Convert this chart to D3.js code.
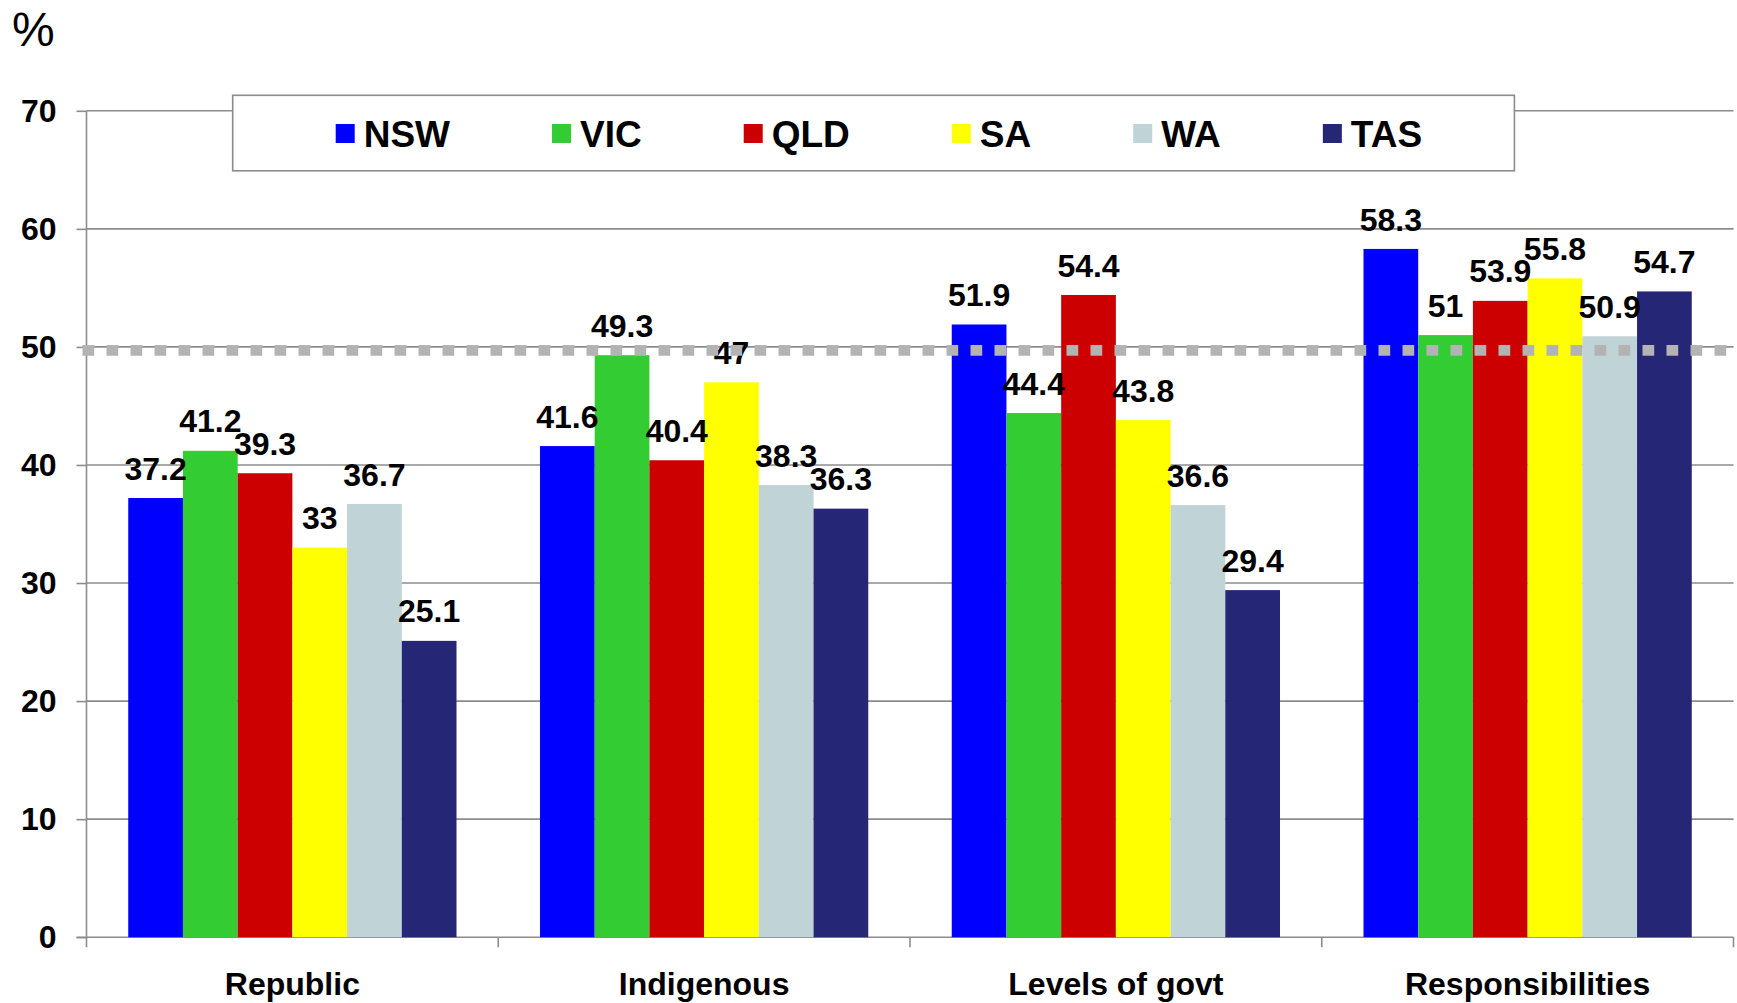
<!DOCTYPE html>
<html>
<head>
<meta charset="utf-8">
<script src="https://cdn.jsdelivr.net/npm/d3@7"></script>
<style>
  html, body { margin: 0; padding: 0; background: #fff; }
  svg { display: block; }
  text { font-family: "Liberation Sans", Arial, sans-serif; }
</style>
</head>
<body>
<svg id="chart" width="1737" height="1003"></svg>
<script>
// ---- data ----
const categories = ["Republic", "Indigenous", "Levels of govt", "Responsibilities"];
const states = ["NSW", "VIC", "QLD", "SA", "WA", "TAS"];
const NSW = [37.2, 41.6, 51.9, 58.3];
const VIC = [41.2, 49.3, 44.4, 51.0];
const QLD = [39.3, 40.4, 54.4, 53.9];
const SA  = [33.0, 47.0, 43.8, 55.8];
const WA  = [36.7, 38.3, 36.6, 50.9];
const TAS = [25.1, 36.3, 29.4, 54.7];
const seriesValues = [NSW, VIC, QLD, SA, WA, TAS];
const stateColors = ["#0000ff", "#33cc33", "#cc0000", "#ffff00", "#c0d3d6", "#262677"];
const yTicks = [0, 10, 20, 30, 40, 50, 60, 70];
const referenceValue = 49.7;
const yUnit = "%";

// ---- layout ----
const svg = d3.select("#chart");
const plot = { left: 86.5, right: 1733.5, top: 110.8, bottom: 937.2 };

const x0 = d3.scaleBand().domain(categories).range([plot.left, plot.right]).padding(0);
const x1 = d3.scaleBand().domain(states).range([0, x0.bandwidth()]).paddingInner(0).paddingOuter(0.763);
const y = d3.scaleLinear().domain([0, 70]).range([plot.bottom, plot.top]);
const color = d3.scaleOrdinal().domain(states).range(stateColors);

const gridColor = "#8c8c8c";

// gridlines + y axis ticks
const yAxis = d3.axisLeft(y).tickValues(yTicks).tickSize(10).tickPadding(20).tickFormat(d3.format("d"));
const gy = svg.append("g").attr("transform", `translate(${plot.left},0)`).call(yAxis);
gy.select(".domain").attr("stroke", gridColor).attr("stroke-width", 1.6)
  .attr("d", `M0,${plot.top}V${plot.bottom + 10}`);
gy.selectAll(".tick line").attr("stroke", gridColor).attr("stroke-width", 1.6);
gy.selectAll(".tick text").attr("fill", "#000").attr("font-size", 32).attr("font-weight", "bold")
  .attr("font-family", "'Liberation Sans', Arial, sans-serif");

svg.append("g").selectAll("line").data(yTicks.filter(d => d > 0)).join("line")
  .attr("x1", plot.left).attr("x2", plot.right)
  .attr("y1", d => y(d)).attr("y2", d => y(d))
  .attr("stroke", gridColor).attr("stroke-width", 1.6);

// x axis
const gx = svg.append("g").attr("transform", `translate(0,${plot.bottom})`);
gx.append("line").attr("x1", plot.left - 10).attr("x2", plot.right).attr("y1", 0).attr("y2", 0)
  .attr("stroke", gridColor).attr("stroke-width", 1.6);
const bounds = categories.map(c => x0(c)).concat([x0(categories[categories.length - 1]) + x0.bandwidth()]);
gx.selectAll("line.tk").data(bounds.slice(1)).join("line").attr("class", "tk")
  .attr("x1", d => d).attr("x2", d => d).attr("y1", 0).attr("y2", 10)
  .attr("stroke", gridColor).attr("stroke-width", 1.6);
gx.selectAll("text.cat").data(categories).join("text").attr("class", "cat")
  .attr("x", d => x0(d) + x0.bandwidth() / 2).attr("y", 58)
  .attr("text-anchor", "middle").attr("font-size", 32).attr("font-weight", "bold").attr("fill", "#000")
  .text(d => d);

// bars
const rows = [];
categories.forEach((c, ci) => states.forEach((s, si) => rows.push({ cat: c, state: s, value: seriesValues[si][ci] })));

svg.append("g").selectAll("rect").data(rows).join("rect")
  .attr("x", d => x0(d.cat) + x1(d.state))
  .attr("y", d => y(d.value))
  .attr("width", x1.bandwidth())
  .attr("height", d => y(0) - y(d.value))
  .attr("fill", d => color(d.state));

// data labels
svg.append("g").selectAll("text").data(rows).join("text")
  .attr("x", d => x0(d.cat) + x1(d.state) + x1.bandwidth() / 2)
  .attr("y", d => y(d.value) - 18.4)
  .attr("text-anchor", "middle").attr("font-size", 32).attr("font-weight", "bold").attr("fill", "#000")
  .text(d => d3.format("~f")(d.value));

// dotted reference line
svg.append("line")
  .attr("x1", plot.left - 4).attr("x2", plot.right)
  .attr("y1", y(referenceValue)).attr("y2", y(referenceValue))
  .attr("stroke", "#b3b3b3").attr("stroke-width", 10.7)
  .attr("stroke-dasharray", "11.7 12.3");

// legend
const lg = svg.append("g");
const box = { x: 232.7, y: 95.3, w: 1281.7, h: 75.5 };
lg.append("rect").attr("x", box.x).attr("y", box.y).attr("width", box.w).attr("height", box.h)
  .attr("fill", "#fff").attr("stroke", gridColor).attr("stroke-width", 1.6);
let lx = box.x + 103;
states.forEach((s, i) => {
  lg.append("rect").attr("x", lx).attr("y", 124).attr("width", 19).attr("height", 19).attr("fill", stateColors[i]);
  const t = lg.append("text").attr("x", lx + 28).attr("y", 146.7)
    .attr("font-size", 37).attr("font-weight", "bold").attr("fill", "#000").text(s);
  lx += 28 + t.node().getComputedTextLength() + 102;
});

// unit label
svg.append("text").attr("x", 12).attr("y", 46).attr("font-family", "'Open Sans', sans-serif")
  .attr("font-size", 48).attr("fill", "#000").text(yUnit);
</script>
</body>
</html>
